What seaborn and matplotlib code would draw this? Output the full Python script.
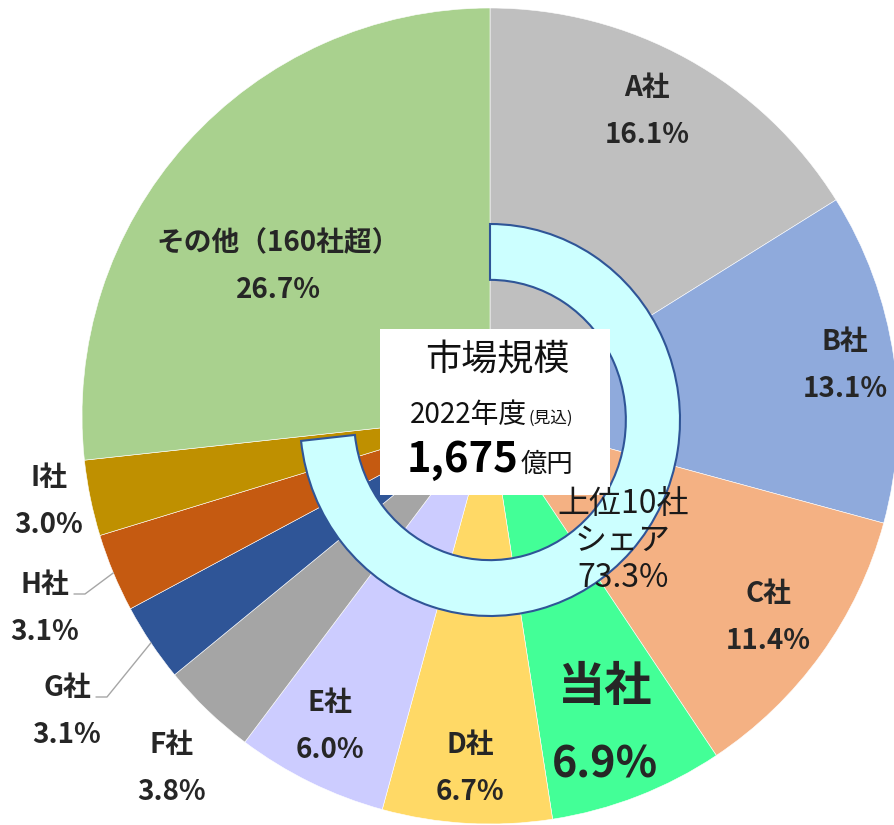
import numpy as np
import matplotlib
matplotlib.use("Agg")
import matplotlib.pyplot as plt
import matplotlib.transforms as mtransforms
from matplotlib.patches import Rectangle
import seaborn as sns

# slices, clockwise from 12 o'clock
companies = ['A社', 'B社', 'C社', '当社', 'D社', 'E社', 'F社', 'G社', 'H社', 'I社', 'その他（160社超）']
shares = [16.1, 13.1, 11.4, 6.9, 6.7, 6.0, 3.8, 3.1, 3.1, 3.0, 26.7]
top10_share = 73.3
market_title = '市場規模'
market_year = '2022年度'
market_note = '(見込)'
market_size = '1,675'
market_unit = '億円'

colors = ['#BFBFBF', '#8FAADC', '#F4B183', '#43FF97', '#FFD966', '#CCCCFF',
          '#A5A5A5', '#2F5597', '#C55A11', '#BF9000', '#A9D18E']

W, H = 894, 825
# label centres (x, y from top) for the name line; value line sits below it
label_xy = [(647, 88), (845, 342), (768, 594), (605, 687), (470, 745), (330, 703),
            (172, 745), (67, 688), (45, 585), (49, 478), (278, 243)]
own = '当社'
leader_for = ['G社', 'H社']


def main():
    sns.set_theme(style='white')
    plt.rcParams['font.family'] = ['Noto Sans CJK JP', 'DejaVu Sans']

    fig = plt.figure(figsize=(W / 100, H / 100), dpi=100)
    ax = fig.add_axes([0, 0, 1, 1])

    cx, cy, r = 490, H - 416, 408
    wedges, _ = ax.pie(shares, colors=colors, startangle=90, counterclock=False,
                       center=(cx, cy), radius=r,
                       wedgeprops=dict(edgecolor='white', linewidth=0.4))

    # top-10 block arc (slightly squashed, like the Excel shape)
    ring, _ = ax.pie([top10_share, 100 - top10_share], colors=['#CCFFFF', 'none'],
                     startangle=90, counterclock=False, radius=1,
                     wedgeprops=dict(width=0.285, edgecolor='#2F5597', linewidth=1.5))
    ring[1].set_visible(False)
    tr = mtransforms.Affine2D().scale(190, 196).translate(490, H - 420) + ax.transData
    for w in ring:
        w.set_transform(tr)
        w.set_zorder(2)

    # market size box
    ax.add_patch(Rectangle((380, H - 495), 230, 166, facecolor='white',
                           edgecolor='none', zorder=3))
    ax.text(497, H - 360, market_title, fontsize=26, ha='center', va='center',
            color='#111111', zorder=4)
    ax.text(527, H - 423, market_year, fontsize=20, ha='right', va='baseline',
            color='#111111', zorder=4)
    ax.text(528, H - 423, market_note, fontsize=12, ha='left', va='baseline',
            color='#111111', zorder=4)
    ax.text(518, H - 472, market_size, fontsize=30, fontweight='bold', ha='right',
            va='baseline', color='black', zorder=4)
    ax.text(521, H - 472, market_unit, fontsize=19, ha='left', va='baseline',
            color='#111111', zorder=4)

    ax.text(623, H - 541, f'上位10社\nシェア\n{top10_share}%', fontsize=23,
            ha='center', va='center', linespacing=1.2, color='#1a1a1a', zorder=5)

    # slice labels
    for name, val, (x, y), w in zip(companies, shares, label_xy, wedges):
        if name == own:
            name_size, val_size, gap = 34, 31, 78
        else:
            name_size, val_size, gap = 20, 20, 47
        ax.text(x, H - y, name, fontsize=name_size, fontweight='bold', ha='center',
                va='center', zorder=6)
        ax.text(x, H - y - gap, f'{val}%', fontsize=val_size,
                fontweight='bold', ha='center', va='center', zorder=6)

        if name in leader_for:
            mid = np.deg2rad((w.theta1 + w.theta2) / 2)
            ex, ey = cx + r * np.cos(mid), cy + r * np.sin(mid)
            ax.plot([x + 29, x + 40, ex], [H - y - 9, H - y - 9, ey],
                    color='#A6A6A6', lw=1, zorder=6)

    # green leader under 当社
    ax.annotate('', xy=(676, H - 827), xytext=(632, H - 799),
                arrowprops=dict(arrowstyle='-', color='#00B050', lw=1.5,
                                connectionstyle='arc3,rad=0.4'), zorder=6)

    ax.set_xlim(0, W)
    ax.set_ylim(0, H)
    ax.set_aspect('equal')
    ax.axis('off')

    fig.savefig('out.png', dpi=100)
    plt.close(fig)


if __name__ == '__main__':
    main()
